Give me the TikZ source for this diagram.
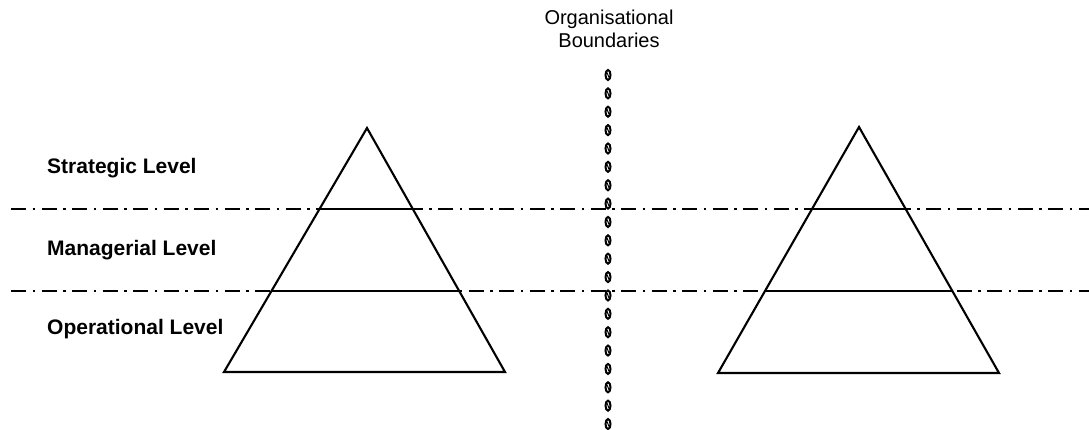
\documentclass[tikz,border=0pt]{standalone}
\usepackage{fontspec}
\setmainfont{Liberation Sans}
\usetikzlibrary{calc}
\begin{document}
\begin{tikzpicture}[x=1pt,y=-1pt,
  pyr/.style={line width=2.1pt, line join=miter},
  level/.style={line width=2.1pt},
  dashdotline/.style={line width=2.4pt, dash pattern=on 15pt off 6.5pt on 2.5pt off 6.5pt},
  lbl/.style={font=\fontsize{21}{24}\selectfont\bfseries, anchor=west, inner sep=0pt},
  ttl/.style={font=\fontsize{20}{22.5}\selectfont, align=center, inner sep=0pt},
  link/.style={line width=2pt}]
\useasboundingbox (0,0) rectangle (1089,430);

% dash-dot level lines
\coordinate (d1l) at (11,209);
\coordinate (d1r) at (1089,209);
\coordinate (d2l) at (11,291);
\coordinate (d2r) at (1089,291);
\draw[dashdotline] (d1l) -- (d1r);
\draw[dashdotline] (d2l) -- (d2r);

% left pyramid
\coordinate (La) at (367,128);
\coordinate (Lbl) at (224,372);
\coordinate (Lbr) at (505,372);
\draw[pyr] (La) -- (Lbl) -- (Lbr) -- cycle;
\draw[level] ($(La)!1/3!(Lbl)$) -- ($(La)!1/3!(Lbr)$);
\draw[level] ($(La)!2/3!(Lbl)$) -- ($(La)!2/3!(Lbr)$);

% right pyramid
\coordinate (Ra) at (859,127);
\coordinate (Rbl) at (718,373);
\coordinate (Rbr) at (999,373);
\draw[pyr] (Ra) -- (Rbl) -- (Rbr) -- cycle;
\draw[level] ($(Ra)!1/3!(Rbl)$) -- ($(Ra)!1/3!(Rbr)$);
\draw[level] ($(Ra)!2/3!(Rbl)$) -- ($(Ra)!2/3!(Rbr)$);

% labels
\node[lbl] (strat) at (47,168) {Strategic Level};
\node[lbl] (manag) at (47,250) {Managerial Level};
\node[lbl] (oper) at (47,329) {Operational Level};

% title
\node[ttl] (title) at (609,29) {Organisational\\Boundaries};

% chain of links (organisational boundary)
\foreach \i in {0,...,19} {
  \draw[link] (608,{75+\i*18.37}) ellipse [x radius=2.5, y radius=5];
  \draw[line width=1pt] (607,{72.5+\i*18.37}) -- (609,{77.5+\i*18.37});
}
\end{tikzpicture}
\end{document}
